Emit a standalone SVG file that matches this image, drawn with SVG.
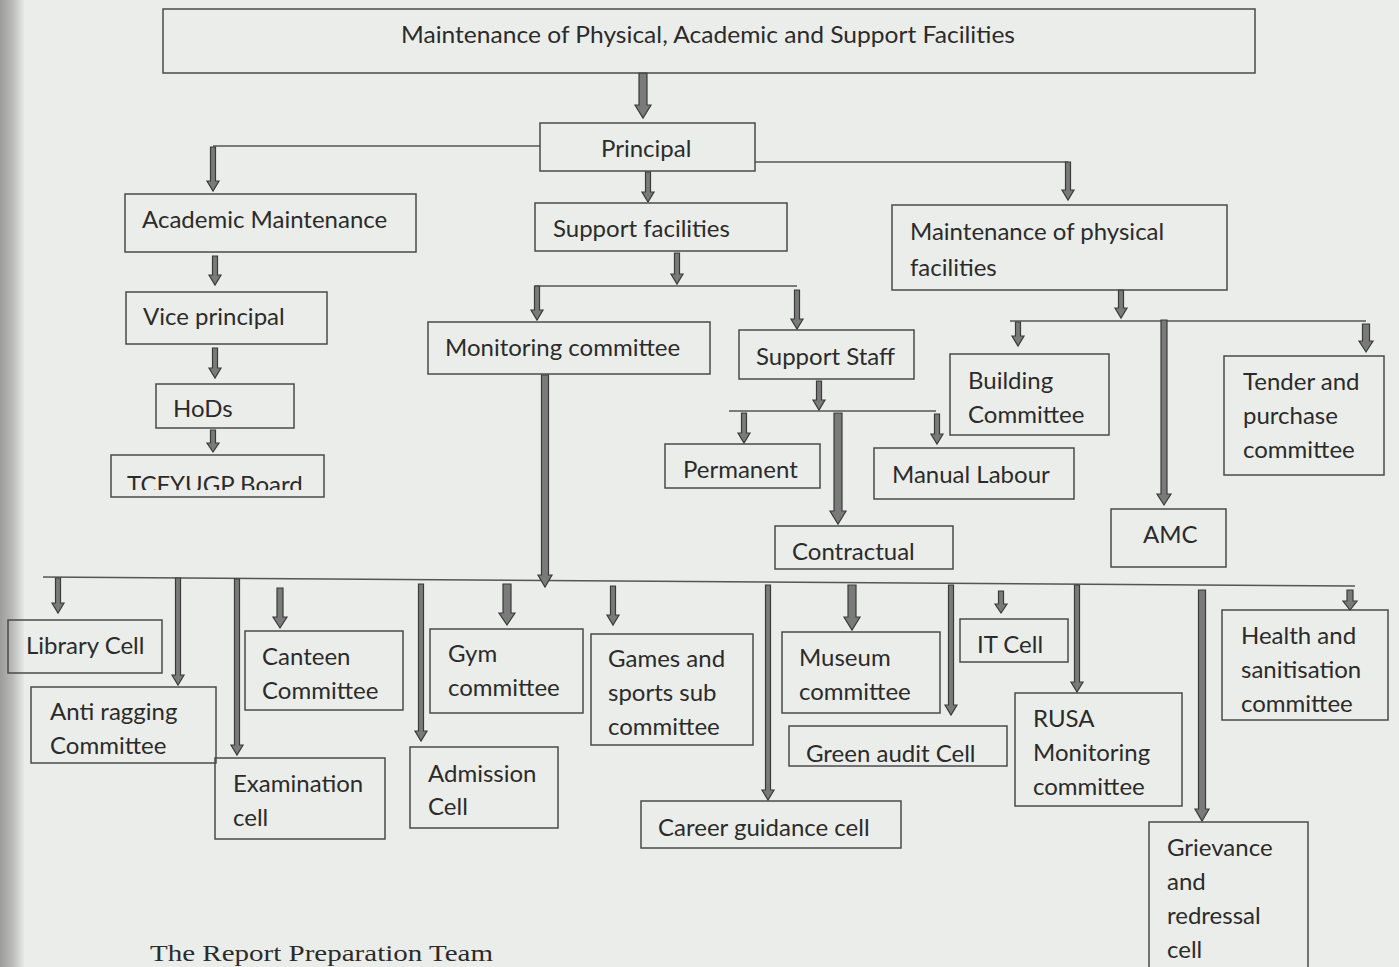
<svg xmlns="http://www.w3.org/2000/svg" width="1399" height="967" viewBox="0 0 1399 967">
<defs>
<style>
.box{fill:none;stroke:#4a4a4a;stroke-width:1.5}
.t{font-family:Lato,"Open Sans","Liberation Sans",sans-serif;font-size:24px;fill:#2b2b2b}
.arr{fill:#7a7a7a;stroke:#3a3a3a;stroke-width:1.2}
.ln{stroke:#555;stroke-width:1.5;fill:none}
</style>
<linearGradient id="edge" x1="0" y1="0" x2="1" y2="0">
<stop offset="0" stop-color="#9c9d9b"/>
<stop offset="0.5" stop-color="#b9bab8"/>
<stop offset="1" stop-color="#e6e8e5"/>
</linearGradient>
<clipPath id="clipTC"><rect x="100" y="455" width="230" height="35"/></clipPath>
<clipPath id="clipGA"><rect x="789" y="726" width="220" height="36"/></clipPath>
</defs>
<rect width="1399" height="967" fill="#ebedea"/>
<rect x="0" y="0" width="24" height="967" fill="url(#edge)"/>

<g id="connectors">
<path class="ln" d="M540 146 H213"/>
<path class="ln" d="M755 162 H1068"/>
<path class="ln" d="M535 286 H797"/>
<path class="ln" d="M729 411 H936"/>
<path class="ln" d="M1010 321 H1366"/>
<path class="ln" d="M43 577 L1355 586"/>
<path class="arr" d="M639 73 H647 V105 H651 L643 118 L635 105 H639 Z"/>
<path class="arr" d="M210.5 147 H215.5 V181 H219 L213 191 L207 181 H210.5 Z"/>
<path class="arr" d="M1065.5 162 H1070.5 V190 H1074 L1068 200 L1062 190 H1065.5 Z"/>
<path class="arr" d="M645.5 172 H650.5 V192 H654 L648 202 L642 192 H645.5 Z"/>
<path class="arr" d="M212.5 256 H217.5 V275 H221 L215 285 L209 275 H212.5 Z"/>
<path class="arr" d="M212.5 348 H217.5 V368 H221 L215 378 L209 368 H212.5 Z"/>
<path class="arr" d="M210.5 430 H215.5 V443 H219 L213 452 L207 443 H210.5 Z"/>
<path class="arr" d="M674.5 253 H679.5 V274 H683 L677 284 L671 274 H674.5 Z"/>
<path class="arr" d="M534.5 286 H539.5 V310 H543 L537 320 L531 310 H534.5 Z"/>
<path class="arr" d="M794.5 290 H799.5 V319 H803 L797 329 L791 319 H794.5 Z"/>
<path class="arr" d="M541.5 375 H548.5 V575 H552 L545 587 L538 575 H541.5 Z"/>
<path class="arr" d="M816.5 381 H821.5 V400 H825 L819 410 L813 400 H816.5 Z"/>
<path class="arr" d="M741.5 413 H746.5 V433 H750 L744 443 L738 433 H741.5 Z"/>
<path class="arr" d="M934.5 414 H939.5 V434 H943 L937 444 L931 434 H934.5 Z"/>
<path class="arr" d="M834 413 H842 V511 H846 L838 524 L830 511 H834 Z"/>
<path class="arr" d="M1118.5 290 H1123.5 V308 H1127 L1121 318 L1115 308 H1118.5 Z"/>
<path class="arr" d="M1015.5 322 H1020.5 V336 H1024 L1018 346 L1012 336 H1015.5 Z"/>
<path class="arr" d="M1362.5 324 H1369.5 V341 H1373 L1366 352 L1359 341 H1362.5 Z"/>
<path class="arr" d="M1161 320 H1167 V494 H1171 L1164 505 L1157 494 H1161 Z"/>
<path class="arr" d="M55.5 578 H60.5 V603 H64 L58 613 L52 603 H55.5 Z"/>
<path class="arr" d="M175.5 578 H180.5 V675 H184 L178 685 L172 675 H175.5 Z"/>
<path class="arr" d="M234.5 579 H239.5 V745 H243 L237 755 L231 745 H234.5 Z"/>
<path class="arr" d="M277 588 H283 V617 H287 L280 628 L273 617 H277 Z"/>
<path class="arr" d="M418.5 584 H423.5 V731 H427 L421 741 L415 731 H418.5 Z"/>
<path class="arr" d="M503 584 H511 V613 H515 L507 625 L499 613 H503 Z"/>
<path class="arr" d="M610.5 586 H615.5 V615 H619 L613 625 L607 615 H610.5 Z"/>
<path class="arr" d="M765.5 585 H770.5 V790 H774 L768 800 L762 790 H765.5 Z"/>
<path class="arr" d="M848 585 H856 V617 H860 L852 630 L844 617 H848 Z"/>
<path class="arr" d="M948.5 585 H953.5 V705 H957 L951 715 L945 705 H948.5 Z"/>
<path class="arr" d="M998.5 591 H1003.5 V604 H1007 L1001 613 L995 604 H998.5 Z"/>
<path class="arr" d="M1074.5 585 H1079.5 V682 H1083 L1077 692 L1071 682 H1074.5 Z"/>
<path class="arr" d="M1198.5 590 H1205.5 V809 H1209 L1202 821 L1195 809 H1198.5 Z"/>
<path class="arr" d="M1347 590 H1353 V601 H1357 L1350 610 L1343 601 H1347 Z"/>
</g>

<g id="n-title"><rect class="box" x="163" y="9" width="1092" height="64"/><text class="t" x="401" y="43" textLength="614" lengthAdjust="spacingAndGlyphs">Maintenance of Physical, Academic and Support Facilities</text></g>
<g id="n-principal"><rect class="box" x="540" y="123" width="215" height="48"/><text class="t" x="601" y="157">Principal</text></g>
<g id="n-academic"><rect class="box" x="125" y="194" width="291" height="58"/><text class="t" x="142" y="228">Academic Maintenance</text></g>
<g id="n-support"><rect class="box" x="535" y="203" width="252" height="48"/><text class="t" x="553" y="237">Support facilities</text></g>
<g id="n-physical"><rect class="box" x="892" y="205" width="335" height="85"/><text class="t" x="910" y="240">Maintenance of physical</text><text class="t" x="910" y="276">facilities</text></g>
<g id="n-vp"><rect class="box" x="126" y="292" width="201" height="52"/><text class="t" x="143" y="325">Vice principal</text></g>
<g id="n-monitoring"><rect class="box" x="428" y="322" width="282" height="52"/><text class="t" x="445" y="356">Monitoring committee</text></g>
<g id="n-staff"><rect class="box" x="739" y="330" width="175" height="49"/><text class="t" x="756" y="365">Support Staff</text></g>
<g id="n-building"><rect class="box" x="950" y="354" width="159" height="81"/><text class="t" x="968" y="389">Building</text><text class="t" x="968" y="423">Committee</text></g>
<g id="n-tender"><rect class="box" x="1224" y="356" width="160" height="119"/><text class="t" x="1243" y="390">Tender and</text><text class="t" x="1243" y="424">purchase</text><text class="t" x="1243" y="458">committee</text></g>
<g id="n-hods"><rect class="box" x="156" y="384" width="138" height="44"/><text class="t" x="173" y="417">HoDs</text></g>
<g id="n-tcfyugp"><text class="t" x="127" y="493" clip-path="url(#clipTC)">TCFYUGP Board</text><rect class="box" x="111" y="455" width="213" height="42"/></g>
<g id="n-permanent"><rect class="box" x="665" y="444" width="155" height="44"/><text class="t" x="683" y="478">Permanent</text></g>
<g id="n-manual"><rect class="box" x="874" y="448" width="200" height="51"/><text class="t" x="892" y="483">Manual Labour</text></g>
<g id="n-contractual"><rect class="box" x="775" y="526" width="178" height="43"/><text class="t" x="792" y="560">Contractual</text></g>
<g id="n-amc"><rect class="box" x="1111" y="509" width="115" height="58"/><text class="t" x="1143" y="543">AMC</text></g>
<g id="n-library"><rect class="box" x="8" y="620" width="154" height="53"/><text class="t" x="26" y="654">Library Cell</text></g>
<g id="n-antiragging"><rect class="box" x="31" y="687" width="185" height="76"/><text class="t" x="50" y="720">Anti ragging</text><text class="t" x="50" y="754">Committee</text></g>
<g id="n-canteen"><rect class="box" x="245" y="631" width="158" height="79"/><text class="t" x="262" y="665">Canteen</text><text class="t" x="262" y="699">Committee</text></g>
<g id="n-gym"><rect class="box" x="430" y="629" width="153" height="84"/><text class="t" x="448" y="662">Gym</text><text class="t" x="448" y="696">committee</text></g>
<g id="n-games"><rect class="box" x="591" y="634" width="162" height="111"/><text class="t" x="608" y="667">Games and</text><text class="t" x="608" y="701">sports sub</text><text class="t" x="608" y="735">committee</text></g>
<g id="n-museum"><rect class="box" x="782" y="632" width="158" height="81"/><text class="t" x="799" y="666">Museum</text><text class="t" x="799" y="700">committee</text></g>
<g id="n-itcell"><rect class="box" x="960" y="619" width="108" height="43"/><text class="t" x="977" y="653">IT Cell</text></g>
<g id="n-health"><rect class="box" x="1222" y="610" width="166" height="110"/><text class="t" x="1241" y="644">Health and</text><text class="t" x="1241" y="678">sanitisation</text><text class="t" x="1241" y="712">committee</text></g>
<g id="n-green"><text class="t" x="806" y="762" clip-path="url(#clipGA)">Green audit Cell</text><rect class="box" x="789" y="726" width="218" height="40"/></g>
<g id="n-rusa"><rect class="box" x="1015" y="693" width="167" height="113"/><text class="t" x="1033" y="727">RUSA</text><text class="t" x="1033" y="761">Monitoring</text><text class="t" x="1033" y="795">committee</text></g>
<g id="n-exam"><rect class="box" x="215" y="758" width="170" height="81"/><text class="t" x="233" y="792">Examination</text><text class="t" x="233" y="826">cell</text></g>
<g id="n-admission"><rect class="box" x="410" y="747" width="148" height="81"/><text class="t" x="428" y="782">Admission</text><text class="t" x="428" y="815">Cell</text></g>
<g id="n-career"><rect class="box" x="641" y="801" width="260" height="47"/><text class="t" x="658" y="836">Career guidance cell</text></g>
<g id="n-grievance"><rect class="box" x="1149" y="822" width="159" height="160"/><text class="t" x="1167" y="856">Grievance</text><text class="t" x="1167" y="890">and</text><text class="t" x="1167" y="924">redressal</text><text class="t" x="1167" y="958">cell</text></g>
<text x="150" y="961" font-family="'Liberation Serif',serif" font-size="23" textLength="343" lengthAdjust="spacingAndGlyphs" fill="#2b2b2b">The Report Preparation Team</text>
</svg>
